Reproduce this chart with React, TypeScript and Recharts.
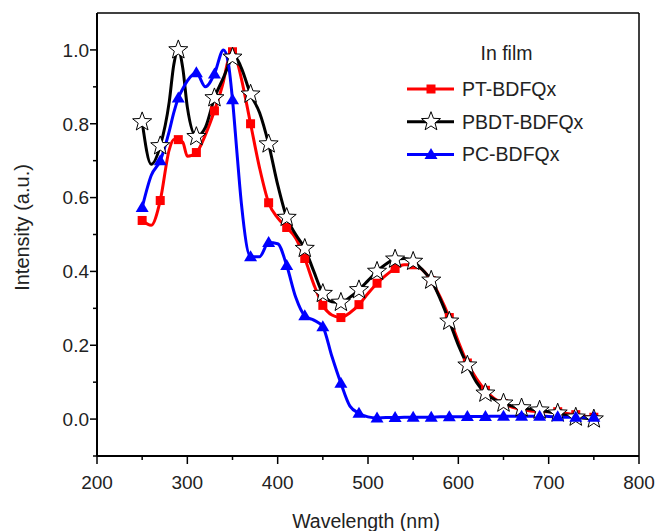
import React from "react";
import { LineChart, Line, XAxis, YAxis, ReferenceLine } from "recharts";

const wavelengths = [
  250, 260, 270, 280, 285, 290, 295, 300, 310, 320, 330, 340, 345, 350, 355, 360,
  370, 380, 390, 400, 410, 420, 430, 440, 450, 460, 470, 480, 490, 500, 510, 520,
  530, 540, 550, 560, 570, 580, 590, 600, 610, 620, 630, 640, 650, 660, 670, 680,
  690, 700, 710, 720, 730, 740, 750,
];

const ptBdfqx = [
  0.538, 0.525, 0.592, 0.73, 0.757, 0.757, 0.75, 0.712, 0.722, 0.77, 0.835, 0.915, 0.97, 0.995, 0.97, 0.92,
  0.8, 0.68, 0.586, 0.545, 0.519, 0.49, 0.435, 0.365, 0.308, 0.282, 0.275, 0.288, 0.31, 0.34, 0.368, 0.39,
  0.408, 0.418, 0.418, 0.405, 0.375, 0.33, 0.275, 0.21, 0.152, 0.11, 0.078, 0.055, 0.042, 0.032, 0.026, 0.022,
  0.02, 0.02, 0.02, 0.015, 0.012, 0.008, 0.005,
];

const pbdtBdfqx = [
  0.805, 0.69, 0.74, 0.86, 0.96, 1.0, 0.95, 0.845, 0.765, 0.79, 0.87, 0.925, 0.955, 0.98, 0.975, 0.95,
  0.88, 0.83, 0.745, 0.635, 0.546, 0.5, 0.462, 0.4, 0.34, 0.318, 0.316, 0.33, 0.35, 0.375, 0.4, 0.42,
  0.433, 0.435, 0.427, 0.405, 0.376, 0.325, 0.265, 0.2, 0.146, 0.1, 0.07, 0.053, 0.043, 0.035, 0.03, 0.027,
  0.024, 0.02, 0.016, 0.01, 0.005, 0.002, 0.0,
];

const pcBdfqx = [
  0.573, 0.66, 0.7, 0.78, 0.83, 0.87, 0.895, 0.916, 0.938, 0.9, 0.935, 1.0, 0.97, 0.865, 0.72, 0.58,
  0.44, 0.44, 0.478, 0.475, 0.416, 0.33, 0.28, 0.268, 0.25, 0.17, 0.097, 0.035, 0.016, 0.006, 0.003, 0.004,
  0.004, 0.005, 0.005, 0.005, 0.005, 0.006, 0.006, 0.006, 0.007, 0.007, 0.007, 0.008, 0.008, 0.008, 0.008, 0.008,
  0.008, 0.007, 0.006, 0.005, 0.005, 0.005, 0.005,
];

const xTicks = [200, 250, 300, 350, 400, 450, 500, 550, 600, 650, 700, 750, 800];
const yTicks = [-0.1, 0, 0.1, 0.2, 0.3, 0.4, 0.5, 0.6, 0.7, 0.8, 0.9, 1.0];

const legendTitle = "In film";
const seriesNames = ["PT-BDFQx", "PBDT-BDFQx", "PC-BDFQx"];

const data = wavelengths.map((nm, i) => ({
  nm,
  pt: ptBdfqx[i],
  pbdt: pbdtBdfqx[i],
  pc: pcBdfqx[i],
}));

const FONT = "'Liberation Sans', Arial, Helvetica, sans-serif";
const TEXT = "#222";

function Square({ cx, cy }: { cx: number; cy: number }) {
  return <rect x={cx - 4.5} y={cy - 4.5} width={9} height={9} fill="#ff0000" />;
}

function Star({ cx, cy }: { cx: number; cy: number }) {
  const pts: string[] = [];
  for (let k = 0; k < 10; k++) {
    const r = k % 2 === 0 ? 10 : 4.2;
    const a = -Math.PI / 2 + (k * Math.PI) / 5;
    pts.push(`${cx + r * Math.cos(a)},${cy + r * Math.sin(a)}`);
  }
  return <polygon points={pts.join(" ")} fill="#fff" stroke="#000" strokeWidth={1} strokeLinejoin="miter" />;
}

function Triangle({ cx, cy }: { cx: number; cy: number }) {
  return <polygon points={`${cx},${cy - 6.5} ${cx + 6.5},${cy + 4.5} ${cx - 6.5},${cy + 4.5}`} fill="#0000ff" />;
}

// markers only every 20 nm, starting at 250
const markerDot = (Shape: any) => (props: any) => {
  const { cx, cy, index, payload } = props;
  if (cx == null || cy == null || (payload.nm - 250) % 20 !== 0) return <g key={`d-${index}`} />;
  return <Shape key={`d-${index}`} cx={cx} cy={cy} />;
};

const XTick = (props: any) => {
  const { x, y, payload } = props;
  const major = payload.value % 100 === 0;
  return (
    <g>
      <line x1={x} y1={y} x2={x} y2={y + (major ? 8 : 4)} stroke="#000" strokeWidth={1.5} />
      {major && (
        <text x={x} y={y + 32.5} textAnchor="middle" fontSize={19} fill={TEXT} fontFamily={FONT}>
          {payload.value}
        </text>
      )}
    </g>
  );
};

const YTick = (props: any) => {
  const { x, y, payload } = props;
  const v = Math.round(payload.value * 10);
  const major = v >= 0 && v % 2 === 0;
  return (
    <g>
      <line x1={x} y1={y} x2={x - (major ? 7 : 4)} y2={y} stroke="#000" strokeWidth={1.5} />
      {major && (
        <text x={x - 8} y={y + 6.8} textAnchor="end" fontSize={19} fill={TEXT} fontFamily={FONT}>
          {(v / 10).toFixed(1)}
        </text>
      )}
    </g>
  );
};

function LegendBox() {
  const colors = ["#ff0000", "#000000", "#0000ff"];
  const shapes = [Square, Star, Triangle];
  return (
    <svg width={656} height={531} style={{ position: "absolute", left: 0, top: 0, pointerEvents: "none" }}>
      <text x={506.5} y={60} textAnchor="middle" fontSize={19.5} fill={TEXT} fontFamily={FONT}>
        {legendTitle}
      </text>
      {seriesNames.map((name, i) => {
        const cy = 89 + i * 32.7;
        const Shape = shapes[i];
        return (
          <g key={name}>
            <line x1={407} x2={454} y1={cy} y2={cy} stroke={colors[i]} strokeWidth={3} />
            <Shape cx={431} cy={cy} />
            <text x={462} y={cy + 7} fontSize={19.5} fill={TEXT} fontFamily={FONT}>
              {name}
            </text>
          </g>
        );
      })}
    </svg>
  );
}

export default function App() {
  return (
    <div style={{ position: "absolute", left: 0, top: 0, width: 656, height: 531, background: "#fff" }}>
      <LineChart width={656} height={531} data={data} margin={{ top: 13, right: 17, left: 37, bottom: 25 }}>
        <XAxis
          dataKey="nm"
          type="number"
          domain={[200, 800]}
          ticks={xTicks}
          interval={0}
          tickLine={false}
          tickSize={0}
          tickMargin={0}
          axisLine={{ stroke: "#000", strokeWidth: 2 }}
          tick={<XTick />}
          height={50}
          label={{
            content: () => (
              <text x={366} y={528} textAnchor="middle" fontSize={19.5} fill={TEXT} fontFamily={FONT}>
                Wavelength (nm)
              </text>
            ),
          }}
        />
        <YAxis
          type="number"
          domain={[-0.1, 1.1]}
          ticks={yTicks}
          interval={0}
          tickLine={false}
          tickSize={0}
          tickMargin={0}
          axisLine={{ stroke: "#000", strokeWidth: 2 }}
          tick={<YTick />}
          width={60}
          label={{
            content: () => (
              <text
                x={0}
                y={0}
                transform="translate(29 227.5) rotate(-90)"
                textAnchor="middle"
                fontSize={20}
                fill={TEXT}
                fontFamily={FONT}
              >
                Intensity (a.u.)
              </text>
            ),
          }}
        />
        <ReferenceLine x={800} stroke="#000" strokeWidth={1.5} />
        <ReferenceLine y={1.1} stroke="#000" strokeWidth={1.5} />
        <Line
          dataKey="pt"
          type="monotone"
          stroke="#ff0000"
          strokeWidth={3}
          dot={markerDot(Square)}
          activeDot={false}
          isAnimationActive={false}
        />
        <Line
          dataKey="pbdt"
          type="monotone"
          stroke="#000000"
          strokeWidth={3}
          dot={markerDot(Star)}
          activeDot={false}
          isAnimationActive={false}
        />
        <Line
          dataKey="pc"
          type="monotone"
          stroke="#0000ff"
          strokeWidth={3}
          dot={markerDot(Triangle)}
          activeDot={false}
          isAnimationActive={false}
        />
      </LineChart>
      <LegendBox />
    </div>
  );
}
